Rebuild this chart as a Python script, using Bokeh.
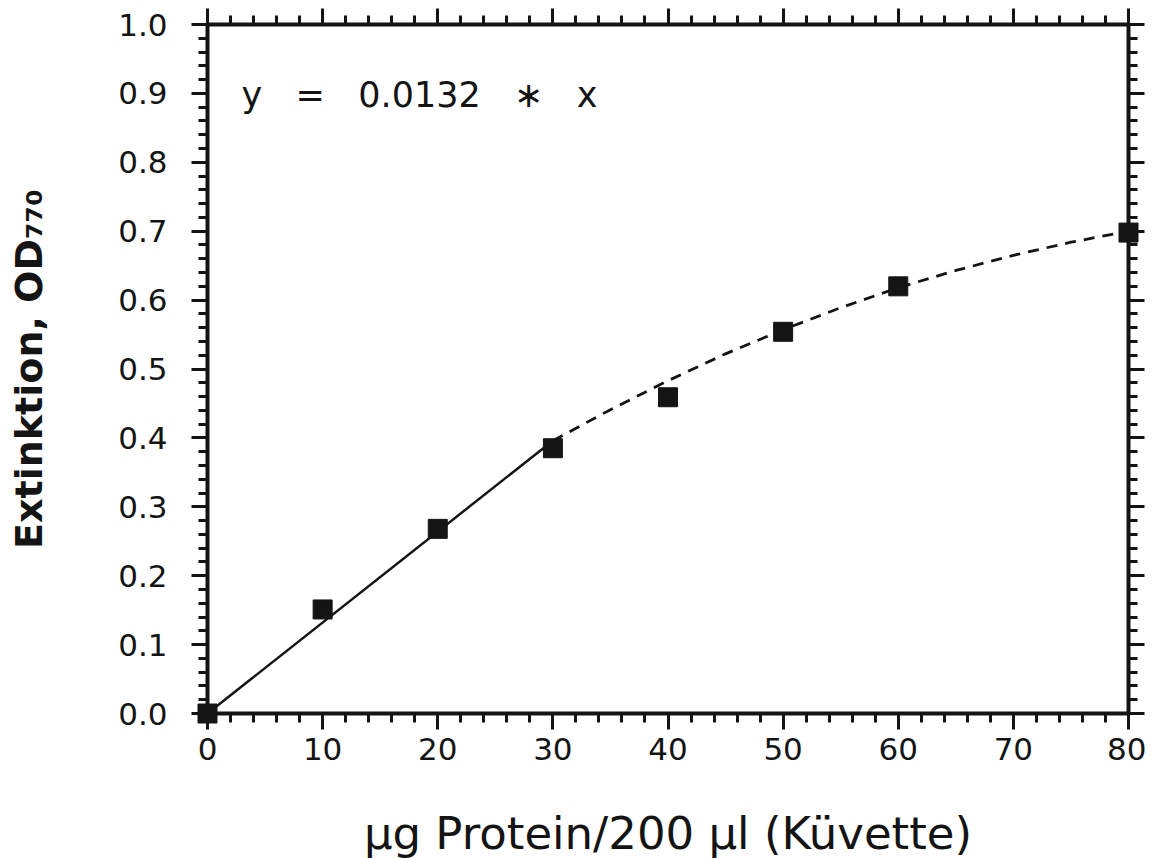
from bokeh.plotting import figure
from bokeh.models import (LinearAxis, FixedTicker, PrintfTickFormatter,
                          CustomJSTickFormatter, Label, ColumnDataSource, Range1d)
from bokeh.embed import file_html
from bokeh.resources import INLINE
import numpy as np

# ---- data ----
protein = [0, 10, 20, 30, 40, 50, 60, 80]
extinction = [0.0, 0.151, 0.268, 0.385, 0.459, 0.554, 0.620, 0.698]

# linear fit y = 0.0132 * x (solid part)
fit_x = [0, 30]
fit_y = [0.0, 0.396]

# saturating continuation (dashed part)
curve_x = [30, 35, 40, 45, 50, 55, 60, 65, 70, 75, 80]
curve_y = [0.396, 0.441, 0.483, 0.522, 0.557, 0.589, 0.618, 0.643, 0.665, 0.684, 0.700]

x_ticks = [0, 10, 20, 30, 40, 50, 60, 70, 80]
y_ticks = [0.0, 0.1, 0.2, 0.3, 0.4, 0.5, 0.6, 0.7, 0.8, 0.9, 1.0]
x_minor = list(np.arange(0, 80.001, 2.0))
y_minor = list(np.round(np.arange(0, 1.0001, 0.02), 3))

SP = "\u00a0\u00a0\u00a0"
equation = "y" + SP + "=" + SP + "0.0132" + SP + "\u2217" + SP + "x"
x_label = "\u00b5g Protein/200 \u00b5l (K\u00fcvette)"
y_label = "Extinktion, OD\u2087\u2087\u2080"

INK = "#141414"

p = figure(frame_width=921, frame_height=689,
           x_range=Range1d(0, 80), y_range=Range1d(0, 1.0),
           output_backend="svg", toolbar_location=None,
           min_border_left=207, min_border_top=24,
           min_border_right=18, min_border_bottom=145,
           x_axis_location=None, y_axis_location=None)
p.outline_line_color = None
p.xgrid.grid_line_color = None
p.ygrid.grid_line_color = None
p.background_fill_color = "white"
p.border_fill_color = "white"


def style(ax, ticks, minor, show_labels):
    ax.ticker = FixedTicker(ticks=ticks, minor_ticks=minor)
    ax.axis_line_width = 4
    ax.axis_line_color = INK
    ax.major_tick_line_width = 3
    ax.minor_tick_line_width = 3
    ax.major_tick_line_color = INK
    ax.minor_tick_line_color = INK
    ax.major_tick_in = 0
    ax.major_tick_out = 16
    ax.minor_tick_in = 0
    ax.minor_tick_out = 9
    if not show_labels:
        ax.formatter = CustomJSTickFormatter(code="return ''")
        ax.major_label_text_font_size = "0px"
        ax.major_label_standoff = 0
    else:
        ax.major_label_text_font = "DejaVu Sans"
        ax.major_label_text_font_size = "31px"
        ax.major_label_text_color = INK


xb = LinearAxis()
style(xb, x_ticks, x_minor, True)
xb.formatter = PrintfTickFormatter(format="%d")
xb.major_label_standoff = 8
xb.axis_label = x_label
xb.axis_label_text_font = "DejaVu Sans"
xb.axis_label_text_font_size = "45px"
xb.axis_label_text_font_style = "normal"
xb.axis_label_text_color = INK
xb.axis_label_standoff = 44
p.add_layout(xb, "below")

yl = LinearAxis()
style(yl, y_ticks, y_minor, True)
yl.formatter = PrintfTickFormatter(format="%.1f")
yl.major_label_standoff = 24
yl.axis_label = y_label
yl.axis_label_text_font = "DejaVu Sans"
yl.axis_label_text_font_size = "38px"
yl.axis_label_text_font_style = "bold"
yl.axis_label_text_color = INK
yl.axis_label_standoff = 64
p.add_layout(yl, "left")

xt = LinearAxis()
style(xt, x_ticks, x_minor, False)
p.add_layout(xt, "above")

yr = LinearAxis()
style(yr, y_ticks, y_minor, False)
p.add_layout(yr, "right")

p.line(fit_x, fit_y, line_color=INK, line_width=2.5)
p.line(curve_x, curve_y, line_color=INK, line_width=2.8, line_dash="11 8")

src = ColumnDataSource(dict(x=protein, y=extinction))
p.scatter("x", "y", source=src, marker="square", size=19,
          fill_color=INK, line_color=INK, level="overlay")

p.add_layout(Label(x=2.95, y=0.897, text=equation, text_font="DejaVu Sans",
                   text_font_size="35px", text_color=INK,
                   text_baseline="alphabetic"))

open("out.html", "w").write(file_html(p, INLINE))
